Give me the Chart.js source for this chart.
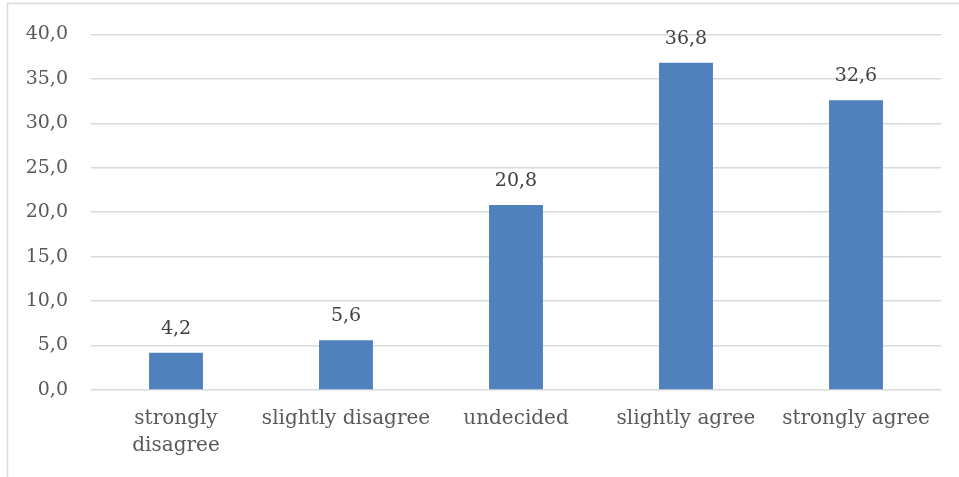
<!DOCTYPE html>
<html>
<head>
<meta charset="utf-8">
<script src="https://cdn.jsdelivr.net/npm/chart.js@4/dist/chart.umd.min.js"></script>
<style>
  html, body { margin: 0; padding: 0; background: #fff; }
  #wrap { width: 959px; height: 477px; position: relative; }
</style>
</head>
<body>
<div id="wrap"><canvas id="c" width="959" height="477"></canvas></div>
<script>
// Survey answers (percent of respondents)
const categories = [['strongly', 'disagree'], 'slightly disagree', 'undecided', 'slightly agree', 'strongly agree'];
const percentages = [4.2, 5.6, 20.8, 36.8, 32.6];
const yTicks = [0, 5, 10, 15, 20, 25, 30, 35, 40];

const FONT = '"DejaVu Serif", serif';
const fmt = v => v.toFixed(1).replace('.', ',');

// Light frame around the chart
const framePlugin = {
  id: 'frame',
  beforeDraw(chart) {
    const ctx = chart.ctx;
    ctx.save();
    ctx.fillStyle = '#fff';
    ctx.fillRect(0, 0, chart.width, chart.height);
    ctx.strokeStyle = '#d9d9d9';
    ctx.lineWidth = 1.5;
    ctx.strokeRect(7.5, 3.5, chart.width + 10, chart.height + 10);
    ctx.restore();
  }
};

// Value labels above each bar
const valueLabels = {
  id: 'valueLabels',
  afterDatasetsDraw(chart) {
    const ctx = chart.ctx;
    const meta = chart.getDatasetMeta(0);
    ctx.save();
    ctx.font = '19px ' + FONT;
    ctx.fillStyle = '#404040';
    ctx.textAlign = 'center';
    ctx.textBaseline = 'alphabetic';
    meta.data.forEach((bar, i) => {
      ctx.fillText(fmt(percentages[i]), bar.x, bar.y - 19);
    });
    ctx.restore();
  }
};

new Chart(document.getElementById('c'), {
  type: 'bar',
  data: {
    labels: categories,
    datasets: [{
      data: percentages,
      backgroundColor: '#4F81BD',
      borderWidth: 0,
      categoryPercentage: 1,
      barPercentage: 0.317
    }]
  },
  options: {
    responsive: false,
    animation: false,
    layout: { padding: { left: 0, right: 18, top: 23, bottom: 0 } },
    plugins: { legend: { display: false }, tooltip: { enabled: false } },
    scales: {
      x: {
        grid: { display: false, drawTicks: false },
        border: { display: false },
        ticks: { color: '#595959', font: { family: FONT, size: 20, lineHeight: 1.35 }, padding: 15, maxRotation: 0, autoSkip: false },
        afterFit(s) { s.height = 87; }
      },
      y: {
        min: 0, max: 40,
        afterBuildTicks(s) { s.ticks = yTicks.map(v => ({ value: v })); },
        grid: { color: '#d9d9d9', lineWidth: 1.5, drawTicks: false },
        border: { display: false },
        ticks: { color: '#595959', font: { family: FONT, size: 19 }, padding: 23, callback: v => fmt(v) },
        afterFit(s) { s.width = 91; }
      }
    }
  },
  plugins: [framePlugin, valueLabels]
});
</script>
</body>
</html>
